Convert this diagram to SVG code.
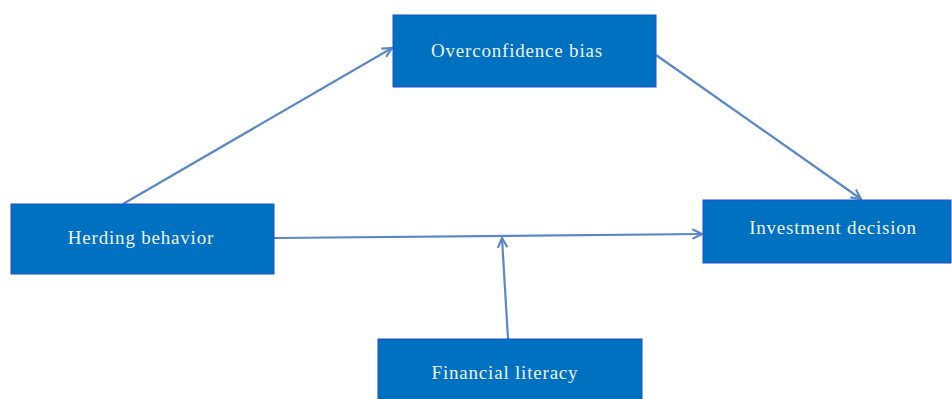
<svg xmlns="http://www.w3.org/2000/svg" width="952" height="399" viewBox="0 0 952 399">
<defs>
<style>
.box{fill:#0070C0;stroke:#1F4FD0;stroke-width:1}
.lbl{font-family:"Liberation Serif","Times New Roman",serif;font-size:19px;letter-spacing:0.8px;fill:#EEF3FA;text-anchor:middle}
.con{stroke:#5B87C6;stroke-width:2.2;fill:none;marker-end:url(#ah)}
</style>
<marker id="ah" viewBox="0 0 10 10" refX="9" refY="5" markerWidth="12" markerHeight="12" orient="auto" markerUnits="userSpaceOnUse">
<path d="M1,1 L9,5 L1,9" fill="none" stroke="#5B87C6" stroke-width="1.8"/>
</marker>
</defs>
<rect width="952" height="399" fill="#FFFFFF"/>
<g id="connectors">
<line class="con" x1="123" y1="204" x2="392" y2="48"/>
<line class="con" x1="656" y1="55" x2="861" y2="199"/>
<line class="con" x1="274" y1="238" x2="702" y2="234"/>
<line class="con" x1="508" y1="339" x2="502" y2="238"/>
</g>
<g id="overconfidence">
<rect class="box" x="393" y="15" width="263" height="72"/>
<text class="lbl" x="517" y="57">Overconfidence bias</text>
</g>
<g id="herding">
<rect class="box" x="11" y="204" width="263" height="70"/>
<text class="lbl" x="141" y="244">Herding behavior</text>
</g>
<g id="investment">
<rect class="box" x="703" y="200" width="248" height="63"/>
<text class="lbl" x="833" y="234">Investment decision</text>
</g>
<g id="financial">
<rect class="box" x="378" y="339" width="264" height="65"/>
<text class="lbl" x="505" y="379">Financial literacy</text>
</g>
</svg>
